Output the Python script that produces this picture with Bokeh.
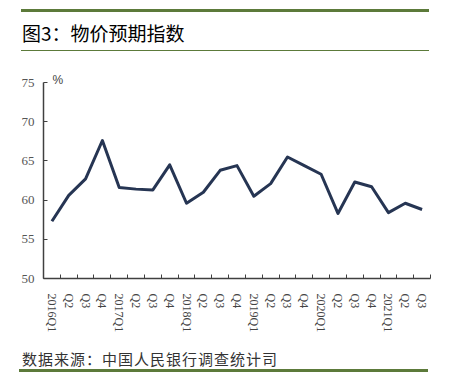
from bokeh.plotting import figure
from bokeh.models import FixedTicker, Title, Div
from bokeh.layouts import column
from bokeh.embed import file_html
from bokeh.resources import INLINE

# ---- data ----
quarters = ["2016Q1", "Q2", "Q3", "Q4",
            "2017Q1", "Q2", "Q3", "Q4",
            "2018Q1", "Q2", "Q3", "Q4",
            "2019Q1", "Q2", "Q3", "Q4",
            "2020Q1", "Q2", "Q3", "Q4",
            "2021Q1", "Q2", "Q3"]
price_expectation = [57.3, 60.6, 62.7, 67.6,
                     61.6, 61.4, 61.3, 64.5,
                     59.6, 61.0, 63.8, 64.4,
                     60.5, 62.1, 65.5, 64.4,
                     63.3, 58.3, 62.3, 61.7,
                     58.4, 59.6, 58.8]
y_ticks = [50, 55, 60, 65, 70, 75]
title_text = "图3：物价预期指数"
source_text = "数据来源：中国人民银行调查统计司"
unit_text = "%"

GREEN = "#5c7a3a"
NAVY = "#263553"
AXIS = "#404040"

n = len(quarters)
xs = list(range(n))

title_div = Div(
    text=(f'<div style="margin-left:21px;margin-top:9px;width:407px;height:34px;'
          f'border-top:3px solid {GREEN};border-bottom:1px solid {GREEN};'
          f'box-sizing:content-box;padding-left:1px;padding-top:4px;'
          f'font-family:\'Noto Sans CJK SC\';font-size:19px;font-weight:normal;color:#000;'
          f'line-height:34px;">{title_text}</div>'),
    width=452, height=52, margin=0)

p = figure(width=452, height=286, output_backend="svg", toolbar_location=None,
           x_range=(-0.5, n - 0.5), y_range=(50, 75),
           min_border_left=43, min_border_right=22,
           min_border_top=30, min_border_bottom=60)
p.outline_line_color = None
p.xgrid.grid_line_color = None
p.ygrid.grid_line_color = None
p.background_fill_color = "white"
p.border_fill_color = "white"

p.line(xs, price_expectation, line_color=NAVY, line_width=3, line_join="round")

# x axis: labels at category centres, ticks at boundaries (minor ticks)
xa = p.xaxis[0]
xa.ticker = FixedTicker(ticks=xs, minor_ticks=[i - 0.5 for i in range(n + 1)])
xa.major_label_overrides = {i: q for i, q in enumerate(quarters)}
xa.major_label_orientation = "vertical"
xa.major_tick_line_color = None
xa.minor_tick_in = 4
xa.minor_tick_out = 0
xa.minor_tick_line_color = AXIS
xa.minor_tick_line_width = 1
xa.axis_line_color = AXIS
xa.axis_line_width = 1.5
xa.major_label_standoff = 9
xa.major_label_text_font = "Liberation Serif"
xa.major_label_text_font_size = "12px"
xa.major_label_text_color = "#444444"

ya = p.yaxis[0]
ya.ticker = FixedTicker(ticks=y_ticks, minor_ticks=[])
ya.major_tick_in = 4
ya.major_tick_out = 0
ya.major_tick_line_color = AXIS
ya.axis_line_color = AXIS
ya.axis_line_width = 1.5
ya.major_label_standoff = 9
ya.major_label_text_font = "Liberation Serif"
ya.major_label_text_font_size = "13px"
ya.major_label_text_color = "#555555"

# unit marker at the top of the y axis
p.add_layout(Title(text=unit_text, align="left", offset=9, standoff=-8,
                   text_font="Liberation Sans", text_font_size="12px",
                   text_font_style="normal", text_color="#444444"), "above")

source_div = Div(
    text=(f'<div style="margin-left:19px;width:406px;height:20px;padding-top:11px;'
          f'border-bottom:3px solid {GREEN};box-sizing:content-box;padding-left:3px;'
          f'font-family:\'Noto Sans CJK SC\';font-size:15px;color:#333;'
          f'letter-spacing:1px;line-height:20px;">{source_text}</div>'),
    width=452, height=35, margin=0)

layout = column(title_div, p, source_div, spacing=0)
open("out.html", "w").write(file_html(layout, INLINE))
